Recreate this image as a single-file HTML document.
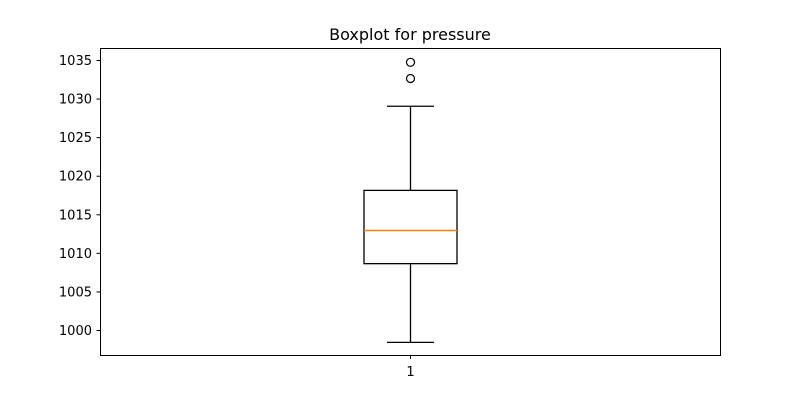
<!DOCTYPE html>
<html><head><meta charset="utf-8"><style>
body{margin:0;background:#fff;}
svg{display:block;font-family:"DejaVu Sans","Liberation Sans",sans-serif;}
</style></head><body>
<svg id="chart" width="800" height="400">
<text x="410" y="40" text-anchor="middle" font-size="16">Boxplot for pressure</text>
<g id="yaxis"></g>
<g id="box"></g>
<rect x="100.5" y="48.5" width="620" height="307" fill="none" stroke="#000" stroke-width="1"/>
<line x1="410.5" y1="355.5" x2="410.5" y2="359" stroke="#000"/>
<text x="410.5" y="376" text-anchor="middle" font-size="13">1</text>
</svg>
<script>
const categories=["1"];
const whiskerLow=[998.4];
const q1=[1008.6];
const median=[1012.9];
const q3=[1018.1];
const whiskerHigh=[1029.0];
const outliers=[[1032.6,1034.7]];
const yTicks=[1000,1005,1010,1015,1020,1025,1030,1035];
const ns="http://www.w3.org/2000/svg";
function y(v){return 330-(v-1000)*270/35;}
function mk(t,a,p){const e=document.createElementNS(ns,t);for(const k in a)e.setAttribute(k,a[k]);p.appendChild(e);return e;}
const ya=document.getElementById('yaxis');
yTicks.forEach(t=>{
  const l=mk('line',{x1:96.5,x2:100.5,y1:y(t)+0.5,y2:y(t)+0.5,stroke:'#000'},ya);
  
  
  const tx=mk('text',{x:92,y:y(t)+5,'text-anchor':'end','font-size':13},ya);
  tx.textContent=t;
  
  
});
const b=document.getElementById('box');
categories.forEach((c,i)=>{
  const cx=410.5,hw=46.5,cw=23.5;
  const r=mk('rect',{x:cx-hw,y:y(q3[i]),width:2*hw,height:y(q1[i])-y(q3[i]),fill:'none',stroke:'#000','stroke-width':1.3},b);
  
  
  const m=mk('line',{x1:cx-hw,x2:cx+hw,y1:y(median[i]),y2:y(median[i]),stroke:'#ff7f0e','stroke-width':1.5},b);
  
  
  const w1=mk('line',{x1:cx,x2:cx,y1:y(q3[i]),y2:y(whiskerHigh[i]),stroke:'#000','stroke-width':1.3},b);
  
  
  const w2=mk('line',{x1:cx,x2:cx,y1:y(q1[i]),y2:y(whiskerLow[i]),stroke:'#000','stroke-width':1.3},b);
  
  
  const c1=mk('line',{x1:cx-cw,x2:cx+cw,y1:y(whiskerHigh[i]),y2:y(whiskerHigh[i]),stroke:'#000','stroke-width':1.3},b);
  
  
  const c2=mk('line',{x1:cx-cw,x2:cx+cw,y1:y(whiskerLow[i]),y2:y(whiskerLow[i]),stroke:'#000','stroke-width':1.3},b);
  
  
  outliers[i].forEach(o=>{
    const p=mk('circle',{cx:cx,cy:y(o),r:4,fill:'none',stroke:'#000','stroke-width':1.2},b);
    
    
  });
});
</script>
</body></html>
